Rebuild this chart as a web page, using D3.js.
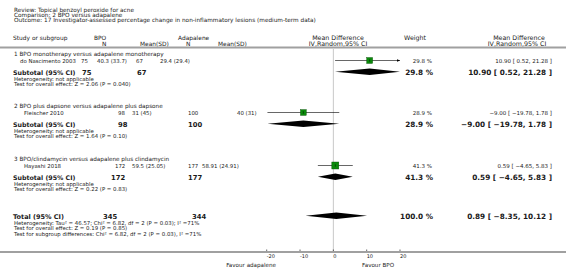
<!DOCTYPE html>
<html>
<head>
<meta charset="utf-8">
<script src="https://cdn.jsdelivr.net/npm/d3@7"></script>
<style>
  body { margin: 0; background: #fff; }
  svg { display: block; font-family: "DejaVu Sans", sans-serif; }
</style>
</head>
<body>
<svg id="forest" width="566" height="276" viewBox="0 0 566 276"></svg>
<script>
// ---- data ----
const titleLines = [
    "Review:  Topical benzoyl peroxide for acne",
    "Comparison:  2 BPO versus adapalene",
    "Outcome:  17 Investigator-assessed percentage change in non-inflammatory lesions (medium-term data)"
];
const groupNames = [
    "1 BPO monotherapy versus adapalene monotherapy",
    "2 BPO plus dapsone versus adapalene plus dapsone",
    "3 BPO/clindamycin versus adapalene plus clindamycin"
];
const studyNames = ["do Nascimento 2003", "Fleischer 2010", "Hayashi 2018"];
const bpoN = [75, 98, 172];
const bpoMeanSD = ["40.3 (33.7)", "31 (45)", "59.5 (25.05)"];
const adaN = [67, 100, 177];
const adaMeanSD = ["29.4 (29.4)", "40 (31)", "58.91 (24.91)"];
const weights = [29.8, 28.9, 41.3];
const md = [10.90, -9.00, 0.59];
const ciLow = [0.52, -19.78, -4.65];
const ciHigh = [21.28, 1.78, 5.83];
const subHetero = ["Heterogeneity: not applicable", "Heterogeneity: not applicable", "Heterogeneity: not applicable"];
const subEffect = ["Test for overall effect: Z = 2.06 (P = 0.040)", "Test for overall effect: Z = 1.64 (P = 0.10)", "Test for overall effect: Z = 0.22 (P = 0.83)"];
const total = { bpoN: 345, adaN: 344, weight: 100.0, md: 0.89, lo: -8.35, hi: 10.12 };
const totalNotes = [
    "Heterogeneity: Tau\u00b2 = 46.57; Chi\u00b2 = 6.82, df = 2 (P = 0.03); I\u00b2 =71%",
    "Test for overall effect: Z = 0.19 (P = 0.85)",
    "Test for subgroup differences: Chi\u00b2 = 6.82, df = 2 (P = 0.03), I\u00b2 =71%"
];
const axisTicks = [-20, -10, 0, 10, 20];
const axisDomain = [-20, 20];

// ---- layout (the original has slightly different column offsets per group) ----
const groupTop = [56, 108, 161];
const colX = [
    { nB: 81, mB: 97, nA: 136, mA: 160, snB: 82, snA: 137 },
    { nB: 118, mB: 132, nA: 188, mA: 237, snB: 118, snA: 188 },
    { nB: 115, mB: 132, nA: 188, mA: 202, snB: 111, snA: 188 }
];
const ink = "#1a1a1a";
const fmt2 = d3.format(".2f");
const ciText = (m, lo, hi) => `${fmt2(m)} [ ${fmt2(lo)}, ${fmt2(hi)} ]`;

const svg = d3.select("#forest");
const x = d3.scaleLinear().domain(axisDomain).range([266.7, 400]);
const zeroX = x(0);

function addText(t, px, py, size, opts = {}) {
    return svg.append("text")
        .attr("x", px).attr("y", py)
        .attr("font-size", size)
        .attr("font-weight", opts.bold ? "bold" : "normal")
        .attr("text-anchor", opts.anchor || "start")
        .attr("fill", opts.fill || ink)
        .text(t);
}

// title block
titleLines.forEach((t, i) => addText(t, 14, 12 + i * 5.2, 5.75));

// column headers
addText("Study or subgroup", 13, 40, 5.9);
addText("BPO", 94, 40, 5.9);
addText("N", 102, 45.5, 5.9);
addText("Mean(SD)", 140, 45.5, 5.9);
addText("Adapalene", 178, 40, 5.9);
addText("N", 186, 45.5, 5.9);
addText("Mean(SD)", 218, 45.5, 5.9);
addText("Mean Difference", 338, 40, 6.3, { anchor: "middle" });
addText("IV,Random,95% CI", 338, 45.5, 6.3, { anchor: "middle" });
addText("Weight", 415, 40, 6.3, { anchor: "middle" });
addText("Mean Difference", 519, 40, 6.3, { anchor: "middle" });
addText("IV,Random,95% CI", 517, 45.5, 6.3, { anchor: "middle" });

// header rule
svg.append("line").attr("x1", 0).attr("x2", 566).attr("y1", 47.5).attr("y2", 47.5)
    .attr("stroke", "#a0a0a0").attr("stroke-width", 2);

// zero line
svg.append("line").attr("x1", zeroX).attr("x2", zeroX).attr("y1", 49).attr("y2", 251)
    .attr("stroke", "#c8c8c8").attr("stroke-width", 1);

const clip = v => Math.max(axisDomain[0], Math.min(axisDomain[1], v));

function diamond(cy, m, lo, hi) {
    const h = 3.2;
    const pts = [[x(clip(lo)), cy], [x(clip(m)), cy - h], [x(clip(hi)), cy], [x(clip(m)), cy + h]];
    svg.append("polygon").attr("points", pts.map(p => p.join(",")).join(" ")).attr("fill", "#000");
}

const wScale = d3.scaleSqrt().domain([0, 41.3]).range([0, 7]);

groupNames.forEach((g, i) => {
    const y0 = groupTop[i];
    const c = colX[i];
    addText(g, 14, y0, 5.7);

    // study row
    const ys = y0 + 6.8;
    addText(studyNames[i], i === 0 ? 20 : 24, ys, 5.4);
    addText(bpoN[i], c.nB, ys, 5.4);
    addText(bpoMeanSD[i], c.mB, ys, 5.4);
    addText(adaN[i], c.nA, ys, 5.4);
    addText(adaMeanSD[i], c.mA, ys, 5.4);
    addText(d3.format(".1f")(weights[i]) + " %", 432, ys, 5.5, { anchor: "end" });
    addText(ciText(md[i], ciLow[i], ciHigh[i]), 552, ys, 5.5, { anchor: "end" });

    const cy = ys - 2.3;
    const x1 = x(clip(ciLow[i])), x2 = x(clip(ciHigh[i]));
    svg.append("line").attr("x1", x1).attr("x2", x2).attr("y1", cy).attr("y2", cy)
        .attr("stroke", "#000").attr("stroke-width", 0.6);
    if (ciHigh[i] > axisDomain[1]) {
        svg.append("path").attr("d", `M${x2},${cy} l-3,-1.3 l0,2.6 z`).attr("fill", "#000");
    }
    if (ciLow[i] < axisDomain[0]) {
        svg.append("path").attr("d", `M${x1},${cy} l3,-1.3 l0,2.6 z`).attr("fill", "#000");
    }
    const s = wScale(weights[i]);
    svg.append("rect").attr("x", x(md[i]) - s / 2).attr("y", cy - s / 2)
        .attr("width", s).attr("height", s)
        .attr("fill", "#0a8a0a").attr("stroke", "#064d06").attr("stroke-width", 0.4);
    svg.append("line").attr("x1", x(md[i])).attr("x2", x(md[i])).attr("y1", cy - 1.2).attr("y2", cy + 1.2)
        .attr("stroke", "#000").attr("stroke-width", 0.5);

    // subtotal row
    const yt = ys + 12;
    addText("Subtotal (95% CI)", 13, yt, 6.3, { bold: true });
    addText(bpoN[i], c.snB, yt, 6.8, { bold: true });
    addText(adaN[i], c.snA, yt, 6.8, { bold: true });
    addText(d3.format(".1f")(weights[i]) + " %", 433, yt, 7.3, { bold: true, anchor: "end" });
    addText(ciText(md[i], ciLow[i], ciHigh[i]), 552, yt, 7.3, { bold: true, anchor: "end" });
    diamond(yt - 3, md[i], ciLow[i], ciHigh[i]);
    addText(subHetero[i], 14, yt + 5.7, 5.4);
    addText(subEffect[i], 14, yt + 11.6, 5.4);
});

// total row
const yT = 219;
addText("Total (95% CI)", 13, yT, 6.5, { bold: true });
addText(total.bpoN, 103, yT, 6.8, { bold: true });
addText(total.adaN, 192, yT, 6.8, { bold: true });
addText(d3.format(".1f")(total.weight) + " %", 433, yT, 7.3, { bold: true, anchor: "end" });
addText(ciText(total.md, total.lo, total.hi), 552, yT, 7.3, { bold: true, anchor: "end" });
diamond(yT - 3.3, total.md, total.lo, total.hi);
totalNotes.forEach((t, i) => addText(t, 14, yT + 5.8 + i * 5.6, 5.4));

// axis
svg.append("line").attr("x1", 0).attr("x2", 566).attr("y1", 252).attr("y2", 252)
    .attr("stroke", "#a0a0a0").attr("stroke-width", 2);
axisTicks.forEach(t => {
    svg.append("line").attr("x1", x(t)).attr("x2", x(t)).attr("y1", 249.5).attr("y2", 251)
        .attr("stroke", "#000").attr("stroke-width", 0.6);
    addText(t, x(t), 258, 5, {});
});
addText("Favour adapalene", 276, 267, 5.6, { anchor: "end" });
addText("Favour BPO", 362, 267, 5.6);
</script>
</body>
</html>
